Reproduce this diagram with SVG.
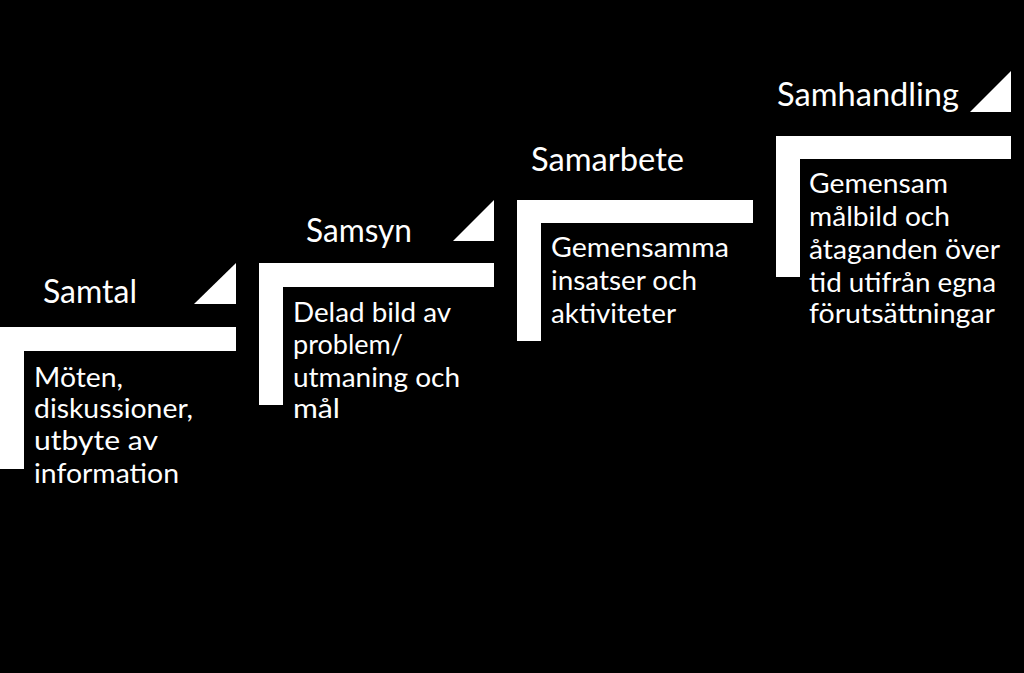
<svg xmlns="http://www.w3.org/2000/svg" width="1024" height="673" viewBox="0 0 1024 673">
<style>
.bg{fill:#000}
.bar{fill:#fff}
.tri{fill:#fff}
.title{font-family:Lato,"Open Sans","Liberation Sans",sans-serif;font-size:32px;fill:#fff}
.body{font-family:Lato,"Open Sans","Liberation Sans",sans-serif;font-size:27px;fill:#fff}
</style>
<rect class="bg" x="0" y="0" width="1024" height="673"/>
<g id="step-samtal">
<path class="bar" d="M0,327H236V351H24V469H0Z"/>
<polygon class="tri" points="194,304 236,304 236,263"/>
<text class="title" x="43" y="303" textLength="94" lengthAdjust="spacingAndGlyphs">Samtal</text>
<text class="body" x="34" y="387" textLength="89" lengthAdjust="spacingAndGlyphs">Möten,</text>
<text class="body" x="34" y="418" textLength="159" lengthAdjust="spacingAndGlyphs">diskussioner,</text>
<text class="body" x="34" y="450" textLength="124" lengthAdjust="spacingAndGlyphs">utbyte av</text>
<text class="body" x="34" y="483" textLength="145" lengthAdjust="spacingAndGlyphs">information</text>
</g>
<g id="step-samsyn">
<path class="bar" d="M259,263H494V287H283V405H259Z"/>
<polygon class="tri" points="453,241 494,241 494,200"/>
<text class="title" x="306" y="242" textLength="106" lengthAdjust="spacingAndGlyphs">Samsyn</text>
<text class="body" x="293" y="322" textLength="158" lengthAdjust="spacingAndGlyphs">Delad bild av</text>
<text class="body" x="293" y="354" textLength="110" lengthAdjust="spacingAndGlyphs">problem/</text>
<text class="body" x="293" y="387" textLength="167" lengthAdjust="spacingAndGlyphs">utmaning och</text>
<text class="body" x="293" y="418" textLength="47" lengthAdjust="spacingAndGlyphs">mål</text>
</g>
<g id="step-samarbete">
<path class="bar" d="M517,200H753V223H541V341H517Z"/>
<text class="title" x="531" y="171" textLength="153" lengthAdjust="spacingAndGlyphs">Samarbete</text>
<text class="body" x="551" y="257" textLength="178" lengthAdjust="spacingAndGlyphs">Gemensamma</text>
<text class="body" x="551" y="290" textLength="146" lengthAdjust="spacingAndGlyphs">insatser och</text>
<text class="body" x="551" y="323" textLength="125" lengthAdjust="spacingAndGlyphs">aktiviteter</text>
</g>
<g id="step-samhandling">
<path class="bar" d="M776,136H1011V159H800V277H776Z"/>
<polygon class="tri" points="970,112 1011,112 1011,71"/>
<text class="title" x="777" y="106" textLength="182" lengthAdjust="spacingAndGlyphs">Samhandling</text>
<text class="body" x="809" y="193" textLength="139" lengthAdjust="spacingAndGlyphs">Gemensam</text>
<text class="body" x="809" y="226" textLength="141" lengthAdjust="spacingAndGlyphs">målbild och</text>
<text class="body" x="809" y="259" textLength="191" lengthAdjust="spacingAndGlyphs">åtaganden över</text>
<text class="body" x="809" y="292" textLength="187" lengthAdjust="spacingAndGlyphs">tid utifrån egna</text>
<text class="body" x="809" y="323" textLength="186" lengthAdjust="spacingAndGlyphs">förutsättningar</text>
</g>
<g id="connectors"></g>
</svg>
